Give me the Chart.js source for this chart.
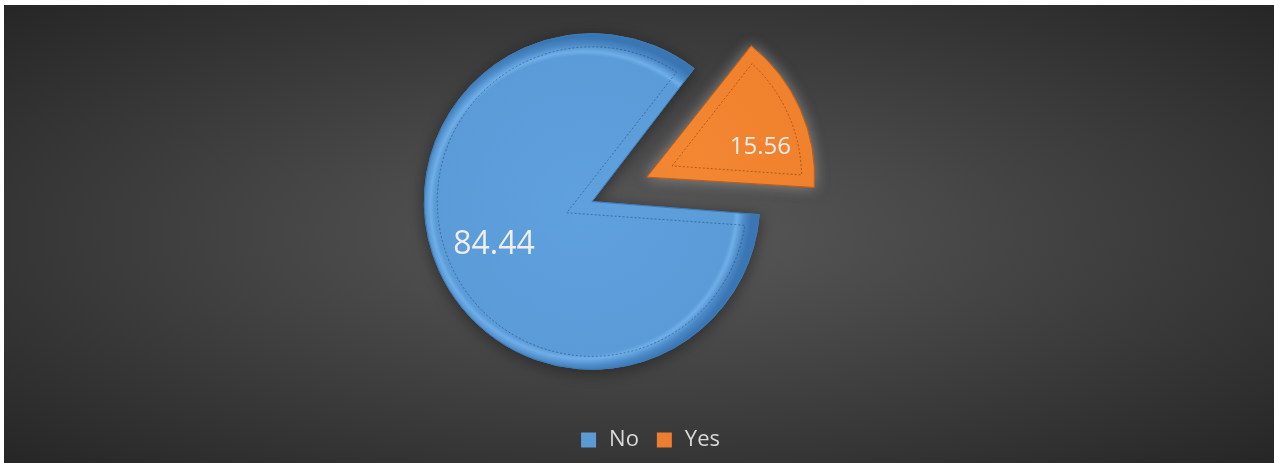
<!DOCTYPE html>
<html>
<head>
<meta charset="utf-8">
<script src="https://cdn.jsdelivr.net/npm/chart.js@4.4.1/dist/chart.umd.min.js"></script>
<style>
  html, body { margin: 0; padding: 0; background: #fff; }
  #frame {
    position: absolute; left: 4px; top: 5px; width: 1270px; height: 458px; overflow: hidden;
    background: radial-gradient(ellipse farthest-corner at 50% 50%, #5a5a5a 0%, #262626 100%);
  }
  #wrap { position: absolute; left: -4px; top: -22px; width: 1274px; height: 480px; }
</style>
</head>
<body>
<div id="frame"><div id="wrap"><canvas id="myChart" width="1274" height="480"></canvas></div></div>
<script>
const categories = ['No', 'Yes'];
const values = [84.44, 15.56];
const colors = ['#5b9bd5', '#ed7d31'];

// exploded pie: both slices pushed apart
const offsets = [35, 205];
const rotation = 94;
const pieRadius = 159;

const rims = [
    ['#5fa0de', '#5a9bd8', '#6fafe8', '#4a88c6', '#3a76b3'],
    ['#f38732', '#ef7f2c', '#f99a52', '#dc6f25', '#c25e1b']
];

// arc element: moves by offset/4 and grows by offset/4 * fix
function grow(offset, circumference) {
    const fix = 1 - Math.sin(Math.min(Math.PI, circumference));
    return offset / 4 * fix;
}

function sliceAngles(i) {
    const total = values.reduce((a, b) => a + b, 0);
    let start = rotation;
    for (let j = 0; j < i; j++) start += values[j] / total * 360;
    const span = values[i] / total * 360;
    return [(start - 90) * Math.PI / 180, (start + span - 90) * Math.PI / 180];
}

function fillFor(context) {
    const chart = context.chart;
    const area = chart.chartArea;
    const i = context.dataIndex;
    if (!area) return colors[i];
    const [a0, a1] = sliceAngles(i);
    const mid = (a0 + a1) / 2;
    const d = offsets[i] / 4;
    const cx = (area.left + area.right) / 2 + Math.cos(mid) * d;
    const cy = (area.top + area.bottom) / 2 + Math.sin(mid) * d;
    const g = chart.ctx.createRadialGradient(cx, cy, 0, cx, cy, pieRadius + grow(offsets[i], a1 - a0));
    const s = rims[i];
    g.addColorStop(0, s[0]);
    g.addColorStop(0.89, s[1]);
    g.addColorStop(0.915, s[2]);
    g.addColorStop(0.96, s[3]);
    g.addColorStop(1, s[4]);
    return g;
}

function arcCenter(arc) {
    const p = arc.getProps(['x', 'y', 'startAngle', 'endAngle', 'outerRadius'], true);
    const off = arc.options.offset || 0;
    const mid = (p.startAngle + p.endAngle) / 2;
    const d = off / 4;
    return { x: p.x + Math.cos(mid) * d, y: p.y + Math.sin(mid) * d, a0: p.startAngle, a1: p.endAngle,
        r: p.outerRadius + grow(off, p.endAngle - p.startAngle) };
}

const glow = {
    id: 'glow',
    beforeDatasetDraw(chart) {
        const ctx = chart.ctx;
        chart.getDatasetMeta(0).data.forEach((arc, i) => {
            ctx.save();
            ctx.shadowColor = i === 1 ? 'rgba(150,150,150,0.8)' : 'rgba(20,20,20,0.5)';
            ctx.shadowBlur = 14;
            ctx.shadowOffsetY = i === 1 ? 0 : 3;
            arc.draw(ctx);
            ctx.restore();
        });
    },
    afterDatasetDraw(chart) {
        const ctx = chart.ctx;
        const inset = 13;
        chart.getDatasetMeta(0).data.forEach((arc, i) => {
            const c = arcCenter(arc);
            const half = (c.a1 - c.a0) / 2;
            const mid = c.a0 + half;
            const k = inset / Math.sin(half);
            const r = c.r - inset;
            const dl = Math.asin(inset / r);
            ctx.save();
            ctx.beginPath();
            ctx.moveTo(c.x + k * Math.cos(mid), c.y + k * Math.sin(mid));
            ctx.lineTo(c.x + r * Math.cos(c.a0 + dl), c.y + r * Math.sin(c.a0 + dl));
            ctx.arc(c.x, c.y, r, c.a0 + dl, c.a1 - dl);
            ctx.closePath();
            ctx.setLineDash([2, 2]);
            ctx.lineWidth = 1;
            ctx.strokeStyle = i === 1 ? 'rgba(110,45,5,0.5)' : 'rgba(30,60,100,0.5)';
            ctx.stroke();
            ctx.restore();
        });
    }
};

const labelPos = [0.64, 0.70];
const labelTurn = [0, 0.16];
const labelSize = [32, 24];

const sliceLabels = {
    id: 'sliceLabels',
    afterDatasetsDraw(chart) {
        const ctx = chart.ctx;
        chart.getDatasetMeta(0).data.forEach((arc, i) => {
            const c = arcCenter(arc);
            const mid = (c.a0 + c.a1) / 2 + labelTurn[i];
            const r = c.r * labelPos[i];
            ctx.save();
            ctx.font = labelSize[i] + 'px "Open Sans"';
            ctx.fillStyle = '#eeeeee';
            ctx.textAlign = 'center';
            ctx.textBaseline = 'middle';
            ctx.fillText(values[i].toFixed(2), c.x + r * Math.cos(mid), c.y + r * Math.sin(mid));
            ctx.restore();
        });
    }
};

const data = {
    labels: categories,
    datasets: [{
        data: values,
        backgroundColor: fillFor,
        borderColor: ['#3f7bb4', '#b95c1c'],
        borderWidth: 1,
        offset: offsets,
        rotation: rotation,
        radius: pieRadius
    }]
};

const config = {
    type: 'pie',
    data: data,
    options: {
        responsive: false,
        animation: false,
        events: [],
        layout: { padding: { left: 464, top: 0, right: 538, bottom: 2 } },
        plugins: {
            tooltip: { enabled: false },
            legend: {
                position: 'bottom',
                align: 'end',
                labels: {
                    color: '#d9d9d9',
                    font: { family: '"Open Sans"', size: 22 },
                    usePointStyle: true,
                    pointStyle: 'rect',
                    boxWidth: 19,
                    boxHeight: 15,
                    padding: 16,
                    generateLabels: () => categories.map((c, i) => ({
                        text: c,
                        fillStyle: colors[i],
                        strokeStyle: colors[i],
                        lineWidth: 0,
                        pointStyle: 'rect',
                        fontColor: '#d9d9d9',
                        hidden: false,
                        index: i
                    }))
                }
            }
        }
    },
    plugins: [glow, sliceLabels]
};

const myChart = new Chart(document.getElementById('myChart'), config);
</script>
</body>
</html>
